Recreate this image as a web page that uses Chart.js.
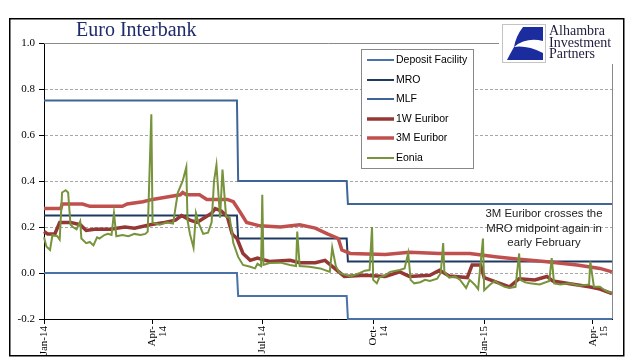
<!DOCTYPE html>
<html>
<head>
<meta charset="utf-8">
<script src="https://cdn.jsdelivr.net/npm/chart.js@4.4.1/dist/chart.umd.min.js"></script>
<style>
body { margin: 0; background: #fff; }
#wrap { width: 634px; height: 361px; }
</style>
</head>
<body>
<div id="wrap"><canvas id="chart"></canvas></div>
<script>
// x values are days counted from 1 Jan 2014
var tickDays = [0, 90, 181, 273, 365, 455];
var tickLabels = ["Jan-14", ["Apr-", "14"], "Jul-14", ["Oct-", "14"], "Jan-15", ["Apr-", "15"]];

var policyDays = [0, 160, 161, 251, 252, 471];
var depositRate = [0, 0, -0.10, -0.10, -0.20, -0.20];
var mroRate = [0.25, 0.25, 0.15, 0.15, 0.05, 0.05];
var mlfRate = [0.75, 0.75, 0.40, 0.40, 0.30, 0.30];

var w1Days = [0, 3, 9, 13, 22, 30, 35, 42, 55, 67, 75, 88, 100, 109, 114, 121, 127, 133, 139, 142, 147, 152, 156, 160, 165, 171, 177, 187, 204, 212, 225, 233, 241, 249, 266, 283, 295, 303, 320, 328, 336, 351, 355, 362, 365, 378, 386, 394, 407, 417, 422, 440, 452, 461, 471];
var w1Vals = [0.18, 0.17, 0.17, 0.22, 0.22, 0.21, 0.185, 0.19, 0.19, 0.20, 0.195, 0.21, 0.22, 0.23, 0.25, 0.23, 0.22, 0.24, 0.26, 0.28, 0.27, 0.245, 0.17, 0.15, 0.085, 0.055, 0.065, 0.05, 0.055, 0.045, 0.045, 0.055, 0.02, -0.015, -0.01, -0.015, 0.005, -0.015, -0.01, 0.012, -0.013, -0.02, 0.035, 0.035, -0.02, -0.045, -0.06, -0.025, -0.03, -0.015, -0.035, -0.05, -0.06, -0.07, -0.09];

var m3Days = [0, 14, 15, 32, 38, 65, 69, 82, 90, 102, 113, 115, 118, 129, 135, 152, 157, 162, 168, 179, 196, 212, 225, 235, 244, 247, 254, 283, 303, 328, 353, 376, 394, 415, 442, 461, 471];
var m3Vals = [0.28, 0.28, 0.30, 0.30, 0.29, 0.29, 0.30, 0.31, 0.32, 0.33, 0.34, 0.35, 0.34, 0.34, 0.32, 0.32, 0.31, 0.27, 0.22, 0.205, 0.20, 0.21, 0.195, 0.17, 0.15, 0.10, 0.085, 0.08, 0.09, 0.085, 0.085, 0.07, 0.06, 0.05, 0.035, 0.02, 0.005];

var eoniaDays = [0, 2, 5, 7, 11, 13, 15, 18, 20, 22, 24, 27, 30, 31, 35, 38, 41, 44, 46, 50, 53, 56, 58, 60, 65, 70, 75, 80, 84, 86, 89, 90, 96, 102, 107, 111, 115, 118, 119, 121, 124, 126, 128, 132, 136, 139, 141, 143, 146, 148, 151, 154, 157, 161, 165, 171, 175, 177, 180, 181, 182, 187, 196, 204, 209, 210, 212, 220, 229, 237, 239, 242, 245, 254, 262, 266, 270, 272, 273, 276, 278, 283, 287, 295, 299, 302, 304, 307, 312, 316, 320, 326, 329, 331, 332, 336, 341, 345, 350, 353, 357, 360, 364, 365, 370, 374, 378, 382, 386, 391, 394, 395, 399, 403, 411, 419, 421, 423, 428, 436, 444, 452, 453, 456, 461, 465, 469, 471];
var eoniaVals = [0.155, 0.115, 0.10, 0.165, 0.16, 0.145, 0.35, 0.36, 0.35, 0.21, 0.20, 0.19, 0.225, 0.15, 0.13, 0.135, 0.12, 0.155, 0.15, 0.165, 0.17, 0.165, 0.26, 0.16, 0.165, 0.16, 0.17, 0.165, 0.17, 0.18, 0.69, 0.22, 0.21, 0.22, 0.215, 0.35, 0.40, 0.46, 0.23, 0.17, 0.11, 0.26, 0.22, 0.17, 0.175, 0.22, 0.40, 0.47, 0.24, 0.45, 0.245, 0.24, 0.13, 0.07, 0.035, 0.027, 0.02, 0.04, 0.03, 0.34, 0.035, 0.043, 0.045, 0.035, 0.03, 0.18, 0.03, 0.027, 0.02, 0.005, 0.11, 0.03, 0.0, -0.015, 0.0, 0.01, 0.013, 0.20, -0.03, -0.045, -0.02, -0.01, 0.005, 0.013, 0.02, 0.087, -0.03, -0.045, -0.04, -0.03, -0.035, -0.025, 0.0, 0.13, 0.005, -0.02, -0.015, -0.03, -0.065, -0.03, -0.05, -0.07, 0.15, -0.075, -0.05, -0.035, -0.05, -0.06, -0.065, -0.06, 0.085, -0.03, -0.04, -0.045, -0.05, -0.035, 0.065, -0.045, -0.05, -0.045, -0.055, -0.05, 0.05, -0.06, -0.06, -0.075, -0.085, -0.085];

var noteLines = ["3M Euribor crosses the", "MRO midpoint again in", "early February"];
var logoLines = ["Alhambra", "Investment", "Partners"];

function pts(days, vals) {
    return days.map(function (d, i) { return { x: d, y: vals[i] }; });
}

function series(label, days, vals, color, width, order) {
    return {
        label: label,
        data: pts(days, vals),
        borderColor: color,
        backgroundColor: color,
        borderWidth: width,
        pointRadius: 0,
        fill: false,
        tension: 0,
        clip: 6,
        order: order
    };
}

var decor = {
    id: 'decor',
    beforeDraw: function (chart) {
        var c = chart.ctx;
        c.save();
        c.fillStyle = '#fff';
        c.fillRect(0, 0, chart.width, chart.height);
        c.restore();
    },
    beforeDatasetsDraw: function (chart) {
        // grey top/right frame of the plot
        var a = chart.chartArea, c = chart.ctx;
        c.save();
        c.strokeStyle = '#8a8a8a';
        c.lineWidth = 1;
        c.beginPath();
        c.moveTo(a.left, a.top + 0.5);
        c.lineTo(a.right + 0.5, a.top + 0.5);
        c.lineTo(a.right + 0.5, a.bottom);
        c.stroke();
        c.restore();
    },
    afterDraw: function (chart) {
        var c = chart.ctx;
        c.save();

        // legend box
        c.fillStyle = '#fff';
        c.fillRect(361, 49, 112, 119);
        c.strokeStyle = '#888';
        c.lineWidth = 1;
        c.strokeRect(361.5, 49.5, 112, 119);
        c.font = '10.5px "Liberation Sans"';
        c.textBaseline = 'middle';
        c.textAlign = 'left';
        chart.data.datasets.forEach(function (ds, i) {
            var y = Math.round(60 + i * 19.6);
            c.strokeStyle = ds.borderColor;
            c.lineWidth = ds.borderWidth;
            c.beginPath();
            c.moveTo(367, y);
            c.lineTo(394, y);
            c.stroke();
            c.fillStyle = '#000';
            c.fillText(ds.label, 396, y + 0.5);
        });

        // note (size fitted to the width of the first line)
        c.fillStyle = '#222';
        c.textAlign = 'center';
        c.textBaseline = 'alphabetic';
        c.font = '12px "Liberation Sans"';
        var fs = 12 * 117 / c.measureText(noteLines[0]).width;
        c.font = fs.toFixed(2) + 'px "Liberation Sans"';
        noteLines.forEach(function (t, i) {
            c.fillText(t, 544, 217 + i * 14.5);
        });

        // title
        c.fillStyle = '#1f2a6b';
        c.font = '20px "Liberation Serif"';
        c.textAlign = 'left';
        c.fillText('Euro Interbank', 76, 36);

        // logo
        c.fillStyle = '#fff';
        c.fillRect(499, 20, 123, 44);
        c.strokeStyle = '#c4c4c4';
        c.lineWidth = 1;
        c.strokeRect(502.5, 24.5, 43, 38);
        c.fillStyle = '#1b2d9e';
        c.beginPath();
        c.moveTo(523, 27);
        c.lineTo(543, 27);
        c.lineTo(543, 41);
        c.quadraticCurveTo(526, 37, 514, 47);
        c.quadraticCurveTo(516, 36, 523, 27);
        c.fill();
        c.beginPath();
        c.moveTo(507, 60);
        c.lineTo(543, 60);
        c.lineTo(543, 53);
        c.quadraticCurveTo(527, 45, 514, 47);
        c.quadraticCurveTo(510, 54, 507, 60);
        c.fill();
        c.fillStyle = '#1d1d3c';
        c.font = '14px "Liberation Serif"';
        logoLines.forEach(function (t, i) {
            c.fillText(t, 549, 35 + i * 11.5);
        });

        // outer frame
        c.strokeStyle = '#000';
        c.lineWidth = 1.5;
        c.strokeRect(9.75, 18.75, 614, 337);
        c.restore();
    }
};

var ctx = document.getElementById('chart');
var chart = new Chart(ctx, {
    type: 'line',
    data: {
        datasets: [
            series('Deposit Facility', policyDays, depositRate, '#4a72a8', 2, 5),
            series('MRO', policyDays, mroRate, '#1f3a62', 2, 4),
            series('MLF', policyDays, mlfRate, '#3f6598', 2, 3),
            series('1W Euribor', w1Days, w1Vals, '#953735', 3.5, 2),
            series('3M Euribor', m3Days, m3Vals, '#c0504d', 3.5, 1),
            series('Eonia', eoniaDays, eoniaVals, '#77933c', 2, 0)
        ]
    },
    options: {
        responsive: true,
        maintainAspectRatio: false,
        animation: false,
        layout: { padding: { left: 0, right: 22, top: 43, bottom: 0 } },
        plugins: {
            legend: { display: false },
            tooltip: { enabled: false }
        },
        scales: {
            x: {
                type: 'linear',
                min: 0,
                max: 471,
                afterBuildTicks: function (scale) {
                    scale.ticks = tickDays.map(function (d) { return { value: d }; });
                },
                afterFit: function (scale) { scale.height = 42; },
                ticks: {
                    autoSkip: false,
                    minRotation: 90,
                    maxRotation: 90,
                    padding: 2,
                    color: '#000',
                    font: { family: 'Liberation Serif', size: 11, lineHeight: 1.0 },
                    callback: function (v) {
                        var i = tickDays.indexOf(v);
                        return i < 0 ? '' : tickLabels[i];
                    }
                },
                grid: { drawOnChartArea: false, tickLength: 5, tickColor: '#000' },
                border: { color: '#000', width: 1 }
            },
            y: {
                min: -0.2,
                max: 1.0,
                afterFit: function (scale) { scale.width = 44; },
                ticks: {
                    stepSize: 0.2,
                    padding: 4,
                    color: '#000',
                    font: { family: 'Liberation Serif', size: 11 },
                    callback: function (v) {
                        return Math.abs(v) < 1e-9 ? '0.0' : v.toFixed(1);
                    }
                },
                grid: {
                    tickLength: 5,
                    tickColor: '#000',
                    color: function (c) {
                        var v = c.tick ? c.tick.value : 0;
                        if (Math.abs(v - 1) < 0.001 || Math.abs(v + 0.2) < 0.001) return 'rgba(0,0,0,0)';
                        return '#a6a6a6';
                    }
                },
                border: { color: '#000', width: 1, dash: [3, 2] }
            }
        }
    },
    plugins: [decor]
});
</script>
</body>
</html>
